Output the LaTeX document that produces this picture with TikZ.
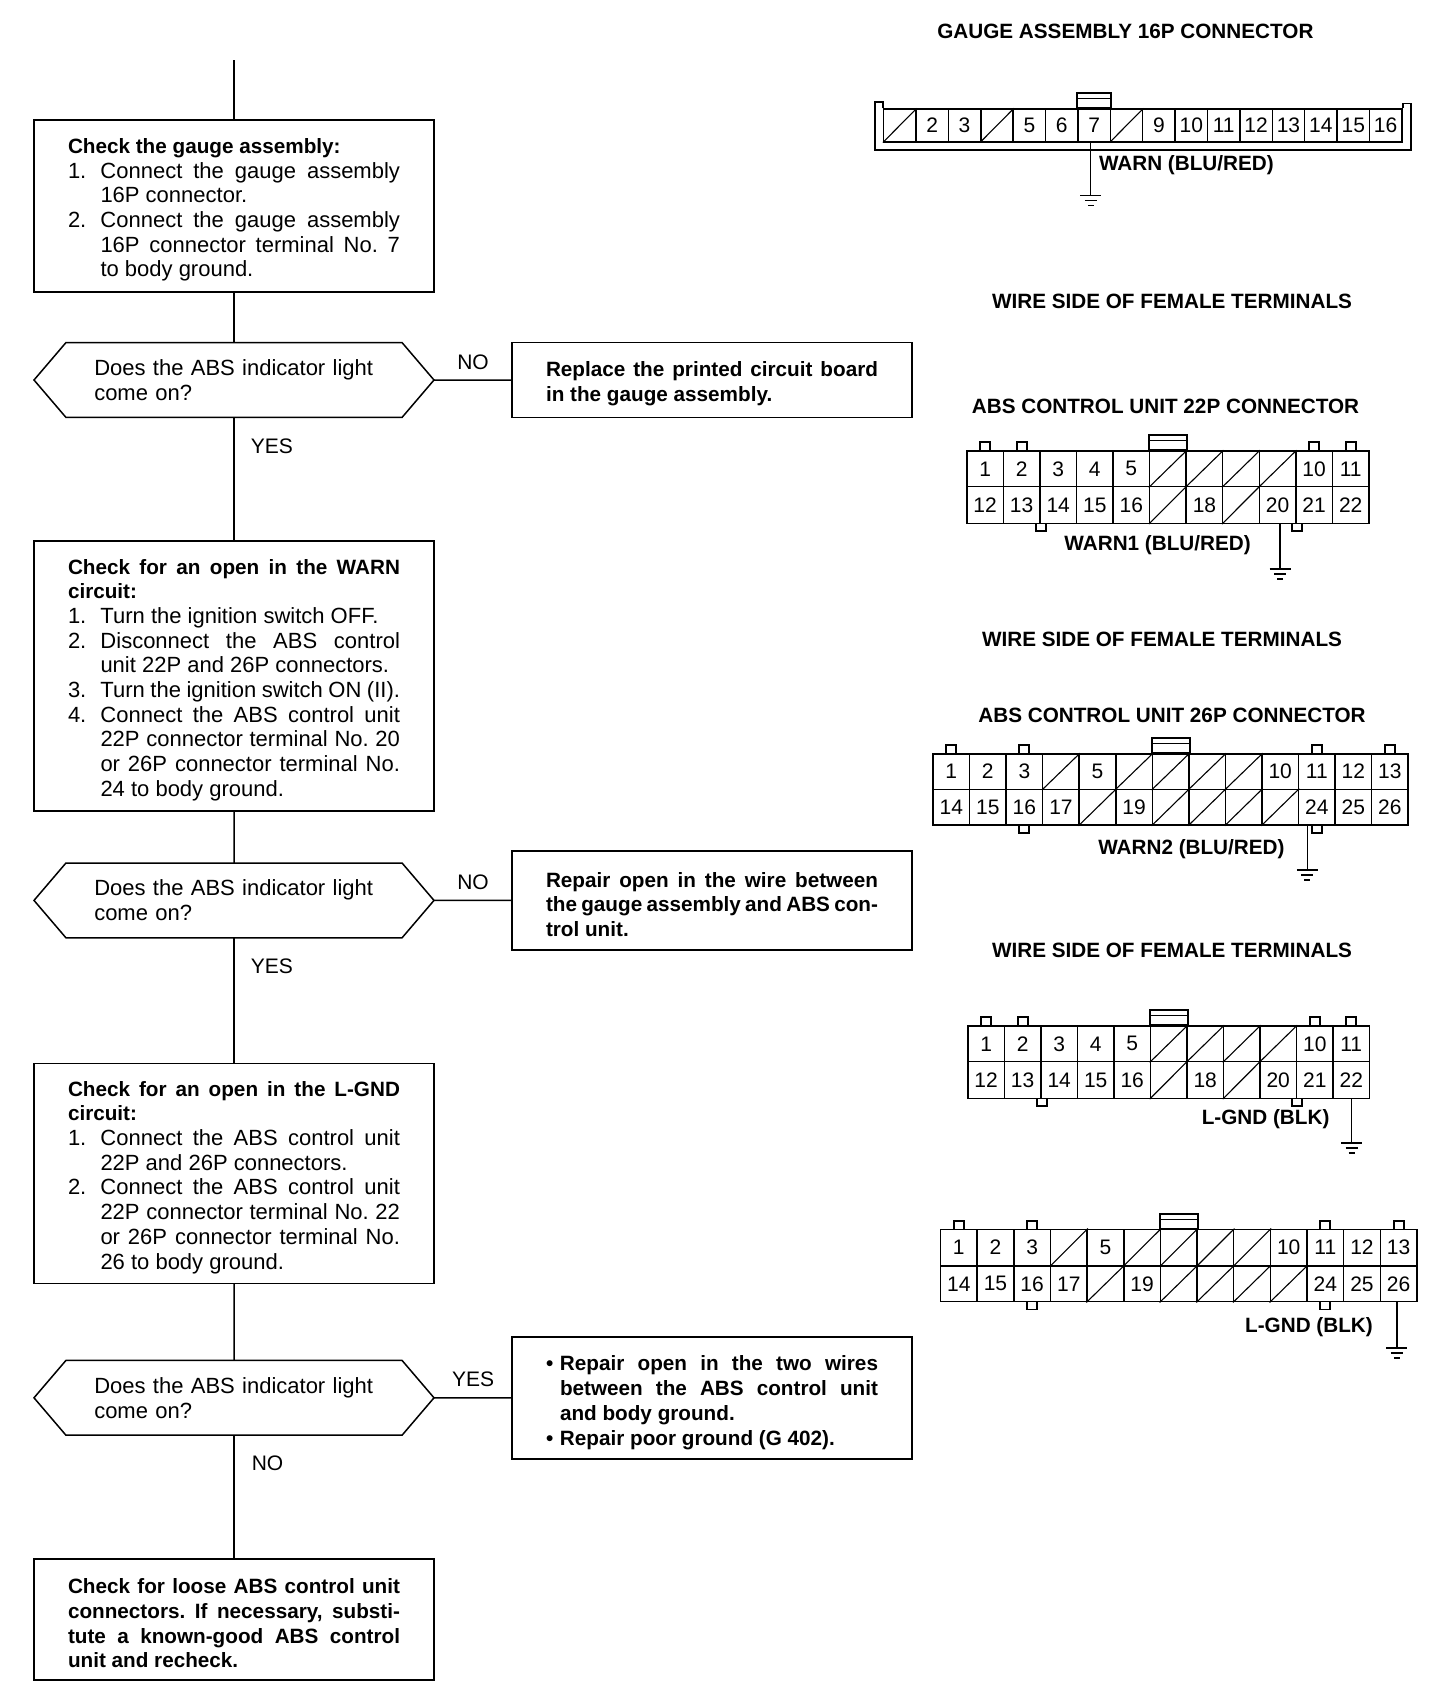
\documentclass[tikz,border=0pt]{standalone}
\usepackage{fontspec}
\setmainfont{Liberation Sans}
\usetikzlibrary{positioning, shapes.symbols}

\newcommand{\bodyfont}{\fontsize{21}{24.7}\selectfont}
\newcommand{\stepfont}{\fontsize{22}{24.7}\selectfont\frenchspacing}
\newcommand{\headfont}{\fontsize{20.7}{24.7}\selectfont\bfseries\frenchspacing}
\newcommand{\stepline}[3][32.5pt]{\par\noindent\hangindent=#1\hangafter=1 \makebox[#1][l]{#2}#3\par}
% prefix, left x, centre y, cell width, cell height, labels (x = blank pin)
\newcommand{\pinrow}[6]{%
  \foreach \n [count=\i] in {#6} {
    \node[cell, minimum width=#4pt, minimum height=#5pt] (#1\i) at ({#2+(\i-.5)*#4},-#3) {\if x\n\else\n\fi};
    \if x\n \draw[slash] (#1\i.south west) -- (#1\i.north east); \fi
  }}
\newcommand{\tabup}[1]{\draw[conn] ([xshift=-5pt]#1) -- ++(0,8) -- ++(10,0) -- ++(0,-8);}
\newcommand{\tabdown}[1]{\draw[conn] ([xshift=-5pt]#1) -- ++(0,-7) -- ++(10,0) -- ++(0,7);}
\newcommand{\connclip}[1]{%
  \draw[conn] (#1.north west) rectangle ([yshift=15pt]#1.north east);
  \draw[slash] ([yshift=9.5pt]#1.north west) -- ([yshift=9.5pt]#1.north east);}

\begin{document}
\begin{tikzpicture}[
    x=1pt, y=1pt,
    box/.style={draw, line width=1.5pt, outer sep=0pt, text width=332pt, inner xsep=34pt, inner ysep=0pt, align=justify, font=\stepfont},
    lowtext/.style={execute at begin node={\rule{0pt}{23pt}}},
    hexa/.style={draw, line width=1.5pt, outer sep=0pt, signal, signal to=west and east, signal pointer angle=99,
      text width=279.5pt, minimum width=400pt, minimum height=74.8pt, inner xsep=0pt, inner ysep=0pt, align=left, font=\stepfont},
    line/.style={line width=1.5pt},
    lab/.style={inner sep=0pt, font=\bodyfont},
    title/.style={inner sep=0pt, font=\headfont},
    cell/.style={draw, line width=1.5pt, inner sep=0pt, font=\bodyfont},
    conn/.style={line width=1.9pt},
    slash/.style={line width=1.1pt},
    wire/.style={line width=1.3pt},
    groundmark/.pic={
      \draw[wire] (-10.5,0) -- (10.5,0);
      \draw[wire] (-6,-5) -- (6,-5);
      \draw[wire] (-3,-10) -- (3,-10);
    }]
  \useasboundingbox (0,0) rectangle (1456,-1700);

  % flow chart, left column
  \coordinate (start) at (234,-60);
  \node[box, lowtext, minimum height=172pt] (check1) at (234,-206) {{\headfont Check the gauge assembly:}
    \stepline{1.}{Connect the gauge assembly\linebreak 16P connector.}
    \stepline{2.}{Connect the gauge assembly\linebreak 16P connector terminal No. 7\linebreak to body ground.}};
  \node[hexa, below=50.6pt of check1] (ask1) {Does the ABS indicator light\\come on?};
  \node[box, lowtext, below=123.6pt of ask1, minimum height=270pt] (check2) {{\headfont Check for an open in the WARN\linebreak circuit:}
    \stepline{1.}{Turn the ignition switch OFF.}
    \stepline{2.}{Disconnect the ABS control\linebreak unit 22P and 26P connectors.}
    \stepline{3.}{Turn the ignition switch ON (II).}
    \stepline{4.}{Connect the ABS control unit\linebreak 22P connector terminal No. 20\linebreak or 26P connector terminal No.\linebreak 24 to body ground.}};
  \node[hexa, below=52pt of check2] (ask2) {Does the ABS indicator light\\come on?};
  \node[box, lowtext, below=125.6pt of ask2, minimum height=220pt] (check3) {{\headfont Check for an open in the L-GND\linebreak circuit:}
    \stepline{1.}{Connect the ABS control unit\linebreak 22P and 26P connectors.}
    \stepline{2.}{Connect the ABS control unit\linebreak 22P connector terminal No. 22\linebreak or 26P connector terminal No.\linebreak 26 to body ground.}};
  \node[hexa, below=77pt of check3] (ask3) {Does the ABS indicator light\\come on?};
  \node[box, lowtext, below=123.6pt of ask3, minimum height=121.4pt, font=\headfont] (check4) {Check for loose ABS control unit\linebreak connectors. If necessary, substi-\linebreak tute a known-good ABS control\linebreak unit and recheck.};

  % repairs, middle column
  \node[box, lowtext, right=78pt of ask1, minimum height=74.8pt, font=\headfont] (fix1) {Replace the printed circuit board\linebreak in the gauge assembly.};
  \node[box, lowtext, right=78pt of ask2, minimum height=99pt, font=\headfont] (fix2) {Repair open in the wire between\linebreak the gauge assembly and ABS con-\linebreak trol unit.};
  \node[box, right=78pt of ask3, minimum height=122pt, font=\headfont] (fix3) {\stepline[14pt]{•}{Repair open in the two wires\linebreak between the ABS control unit\linebreak and body ground.}
    \stepline[14pt]{•}{Repair poor ground (G 402).}};

  \draw[line] (start) -- (check1);
  \draw[line] (check1) -- (ask1);
  \draw[line] (ask1) -- node[lab, pos=.23, right=16pt] (yes1) {YES} (check2);
  \draw[line] (check2) -- (ask2);
  \draw[line] (ask2) -- node[lab, pos=.23, right=16pt] (yes2) {YES} (check3);
  \draw[line] (check3) -- (ask3);
  \draw[line] (ask3) -- node[lab, pos=.23, right=17pt] (no3) {NO} (check4);
  \draw[line] (ask1) -- node[lab, midway, above=10pt] (no1) {NO} (fix1);
  \draw[line] (ask2) -- node[lab, midway, above=10pt] (no2) {NO} (fix2);
  \draw[line] (ask3) -- node[lab, midway, above=10pt] (yes3) {YES} (fix3);

  % gauge assembly 16P
  \node[title] (gaugetitle) at (1125.4,-31.4) {GAUGE ASSEMBLY 16P CONNECTOR};
  \pinrow{g}{883.6}{125.4}{32.39}{32.7}{x,2,3,x,5,6,7,x,9,10,11,12,13,14,15,16}
  \draw[conn] (g1.north west) -- ++(0,6.3) -- ++(-7.6,0) |- ([xshift=8.8pt,yshift=-7.3pt]g16.south east) -- ++(0,46.3) -- ++(-8.8,0) -- (g16.north east);
  \connclip{g7}
  \coordinate (gnd1) at (1090.8,-195.7);
  \draw[wire] (gnd1 |- g7.south) -- (gnd1) pic {groundmark};
  \node[title, anchor=west] (warn) at (1098.8,-165) {WARN (BLU/RED)};
  \node[title] (wire1) at (1172,-301.4) {WIRE SIDE OF FEMALE TERMINALS};

  % ABS control unit 22P
  \node[title] (abstitle1) at (1165.5,-406.6) {ABS CONTROL UNIT 22P CONNECTOR};
  \pinrow{a}{966.8}{468.8}{36.56}{35.7}{1,2,3,4,5,x,x,x,x,10,11}
  \pinrow{b}{966.8}{505}{36.56}{36.6}{12,13,14,15,16,x,18,x,20,21,22}
  \foreach \p in {a1,a2,a10,a11} {\tabup{\p.north}}
  \foreach \p in {b2,b9} {\tabdown{\p.south east}}
  \connclip{a6}
  \coordinate (gnd2) at (1280,-569);
  \draw[wire] (gnd2 |- b9.south) -- (gnd2) pic {groundmark};
  \node[title] (warn1) at (1157.6,-545) {WARN1 (BLU/RED)};
  \node[title] (wire2) at (1162,-639) {WIRE SIDE OF FEMALE TERMINALS};

  % ABS control unit 26P
  \node[title] (abstitle2) at (1172,-715.6) {ABS CONTROL UNIT 26P CONNECTOR};
  \pinrow{c}{933}{771.6}{36.55}{35.3}{1,2,3,x,5,x,x,x,x,10,11,12,13}
  \pinrow{d}{933}{807.2}{36.55}{35.7}{14,15,16,17,x,19,x,x,x,x,24,25,26}
  \foreach \p in {c1,c3,c11,c13} {\tabup{\p.north}}
  \foreach \p in {d3,d11} {\tabdown{\p.south}}
  \connclip{c7}
  \coordinate (gnd3) at (1307.4,-870);
  \draw[wire] (gnd3 |- d11.south) -- (gnd3) pic {groundmark};
  \node[title] (warn2) at (1191.4,-849) {WARN2 (BLU/RED)};
  \node[title] (wire3) at (1172,-950) {WIRE SIDE OF FEMALE TERMINALS};

  % 22P again, L-GND
  \pinrow{e}{967.9}{1043.8}{36.51}{35.7}{1,2,3,4,5,x,x,x,x,10,11}
  \pinrow{f}{967.9}{1080}{36.51}{36.6}{12,13,14,15,16,x,18,x,20,21,22}
  \foreach \p in {e1,e2,e10,e11} {\tabup{\p.north}}
  \foreach \p in {f2,f9} {\tabdown{\p.south east}}
  \connclip{e6}
  \coordinate (gnd4) at (1351.5,-1143);
  \draw[wire] (gnd4 |- f11.south) -- (gnd4) pic {groundmark};
  \node[title] (lgnd1) at (1265.6,-1119) {L-GND (BLK)};

  % 26P again, L-GND
  \pinrow{h}{940.5}{1247.6}{36.65}{36.6}{1,2,3,x,5,x,x,x,x,10,11,12,13}
  \pinrow{k}{940.5}{1283.8}{36.65}{35.8}{14,15,16,17,x,19,x,x,x,x,24,25,26}
  \foreach \p in {h1,h3,h11,h13} {\tabup{\p.north}}
  \foreach \p in {k3,k11} {\tabdown{\p.south}}
  \connclip{h7}
  \coordinate (gnd5) at (1396.9,-1348);
  \draw[wire] (gnd5 |- k13.south) -- (gnd5) pic {groundmark};
  \node[title] (lgnd2) at (1309,-1327) {L-GND (BLK)};
\end{tikzpicture}
\end{document}
